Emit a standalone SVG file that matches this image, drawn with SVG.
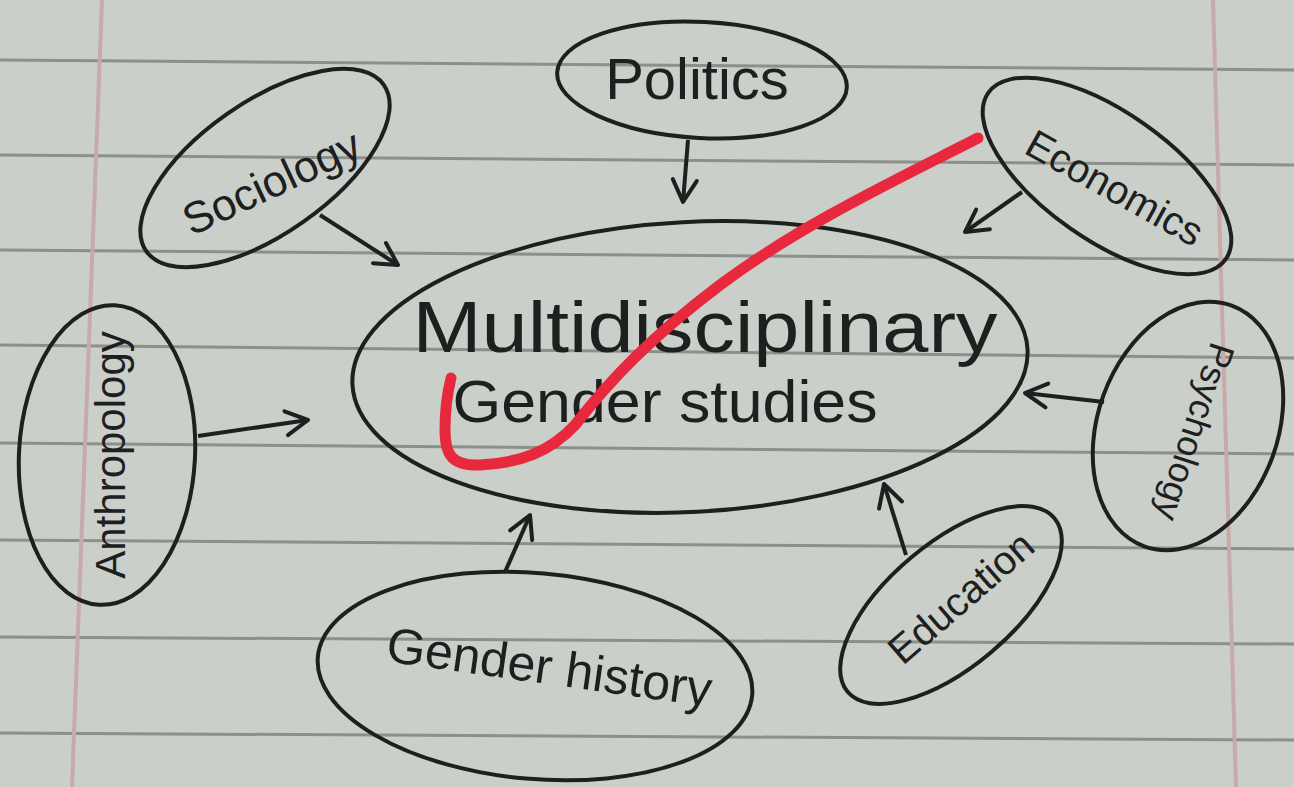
<svg xmlns="http://www.w3.org/2000/svg" width="1294" height="787" viewBox="0 0 1294 787">
<defs>
<style>
.rule{stroke:#8c8f8a;stroke-width:3;fill:none}
.margin{stroke:#c9a9a9;stroke-width:4;fill:none}
.node{fill:none;stroke:#1d201f;stroke-width:4}
.lbl{font-family:"Liberation Sans",Arial,sans-serif;fill:#1d201f;text-anchor:middle}
.conn{stroke:#1d201f;stroke-width:4;fill:none;marker-end:url(#arr)}
</style>
<marker id="arr" markerUnits="userSpaceOnUse" markerWidth="30" markerHeight="30" viewBox="0 0 30 30" refX="26" refY="15" orient="auto">
<path d="M4,3 L26,15 L4,27" fill="none" stroke="#1d201f" stroke-width="4" stroke-linecap="round" stroke-linejoin="round"/>
</marker>
</defs>
<rect width="1294" height="787" fill="#cbcfc9"/>
<g id="paper">
<line class="rule" x1="0" y1="60" x2="1294" y2="70"/>
<line class="rule" x1="0" y1="155" x2="1294" y2="165"/>
<line class="rule" x1="0" y1="250" x2="1294" y2="260"/>
<line class="rule" x1="0" y1="345" x2="1294" y2="358"/>
<line class="rule" x1="0" y1="443" x2="1294" y2="454"/>
<line class="rule" x1="0" y1="540" x2="1294" y2="549"/>
<line class="rule" x1="0" y1="637" x2="1294" y2="644"/>
<line class="rule" x1="0" y1="733" x2="1294" y2="740"/>
<line class="margin" x1="102" y1="0" x2="72" y2="787"/>
<line class="margin" x1="1213" y1="0" x2="1236" y2="787"/>
</g>
<g id="center">
<ellipse class="node" cx="690" cy="367" rx="338" ry="145" transform="rotate(-3 690 367)"/>
<text class="lbl" x="705" y="352" font-size="72" textLength="585" lengthAdjust="spacingAndGlyphs">Multidisciplinary</text>
<text class="lbl" x="665" y="422" font-size="60" textLength="425" lengthAdjust="spacingAndGlyphs">Gender studies</text>
</g>
<g id="politics">
<ellipse class="node" cx="702" cy="80" rx="145" ry="58" transform="rotate(3 702 80)"/>
<text class="lbl" x="697" y="99" font-size="58">Politics</text>
</g>
<g id="sociology">
<ellipse class="node" cx="265" cy="168" rx="145" ry="66" transform="rotate(-35 265 168)"/>
<text class="lbl" x="0" y="0" font-size="44" transform="translate(278 196) rotate(-25)">Sociology</text>
</g>
<g id="economics">
<ellipse class="node" cx="1107" cy="176" rx="145" ry="64" transform="rotate(35 1107 176)"/>
<text class="lbl" x="0" y="0" font-size="40" transform="translate(1108 200) rotate(29)">Economics</text>
</g>
<g id="anthropology">
<ellipse class="node" cx="107" cy="455" rx="88" ry="150" transform="rotate(3 107 455)"/>
<text class="lbl" x="0" y="0" font-size="42" transform="translate(125 455) rotate(-90)">Anthropology</text>
</g>
<g id="psychology">
<ellipse class="node" cx="1188" cy="426" rx="90" ry="128" transform="rotate(20 1188 426)"/>
<text class="lbl" x="0" y="0" font-size="36" transform="translate(1183 428) rotate(108)">Psychology</text>
</g>
<g id="education">
<ellipse class="node" cx="951" cy="605" rx="135" ry="62" transform="rotate(-40 951 605)"/>
<text class="lbl" x="0" y="0" font-size="40" transform="translate(970 608) rotate(-41)">Education</text>
</g>
<g id="gender-history">
<ellipse class="node" cx="535" cy="676" rx="218" ry="103" transform="rotate(5 535 676)"/>
<text class="lbl" x="0" y="0" font-size="50" transform="translate(547 684) rotate(8)">Gender history</text>
</g>
<g id="connectors">
<path class="conn" d="M688,140 L683,202"/>
<path class="conn" d="M320,215 L398,265"/>
<path class="conn" d="M1022,192 L965,232"/>
<path class="conn" d="M198,436 L308,420"/>
<path class="conn" d="M1104,402 L1025,393"/>
<path class="conn" d="M906,555 L884,484"/>
<path class="conn" d="M505,572 L530,515"/>
</g>
<path id="red-stroke" d="M978,138 C900,178 800,225 720,285 C650,338 610,380 575,425 C550,452 520,463 480,465 C452,466 445,455 445,430 C445,405 448,390 451,378" fill="none" stroke="#e8283c" stroke-width="11" stroke-linecap="round" stroke-linejoin="round"/>
</svg>
